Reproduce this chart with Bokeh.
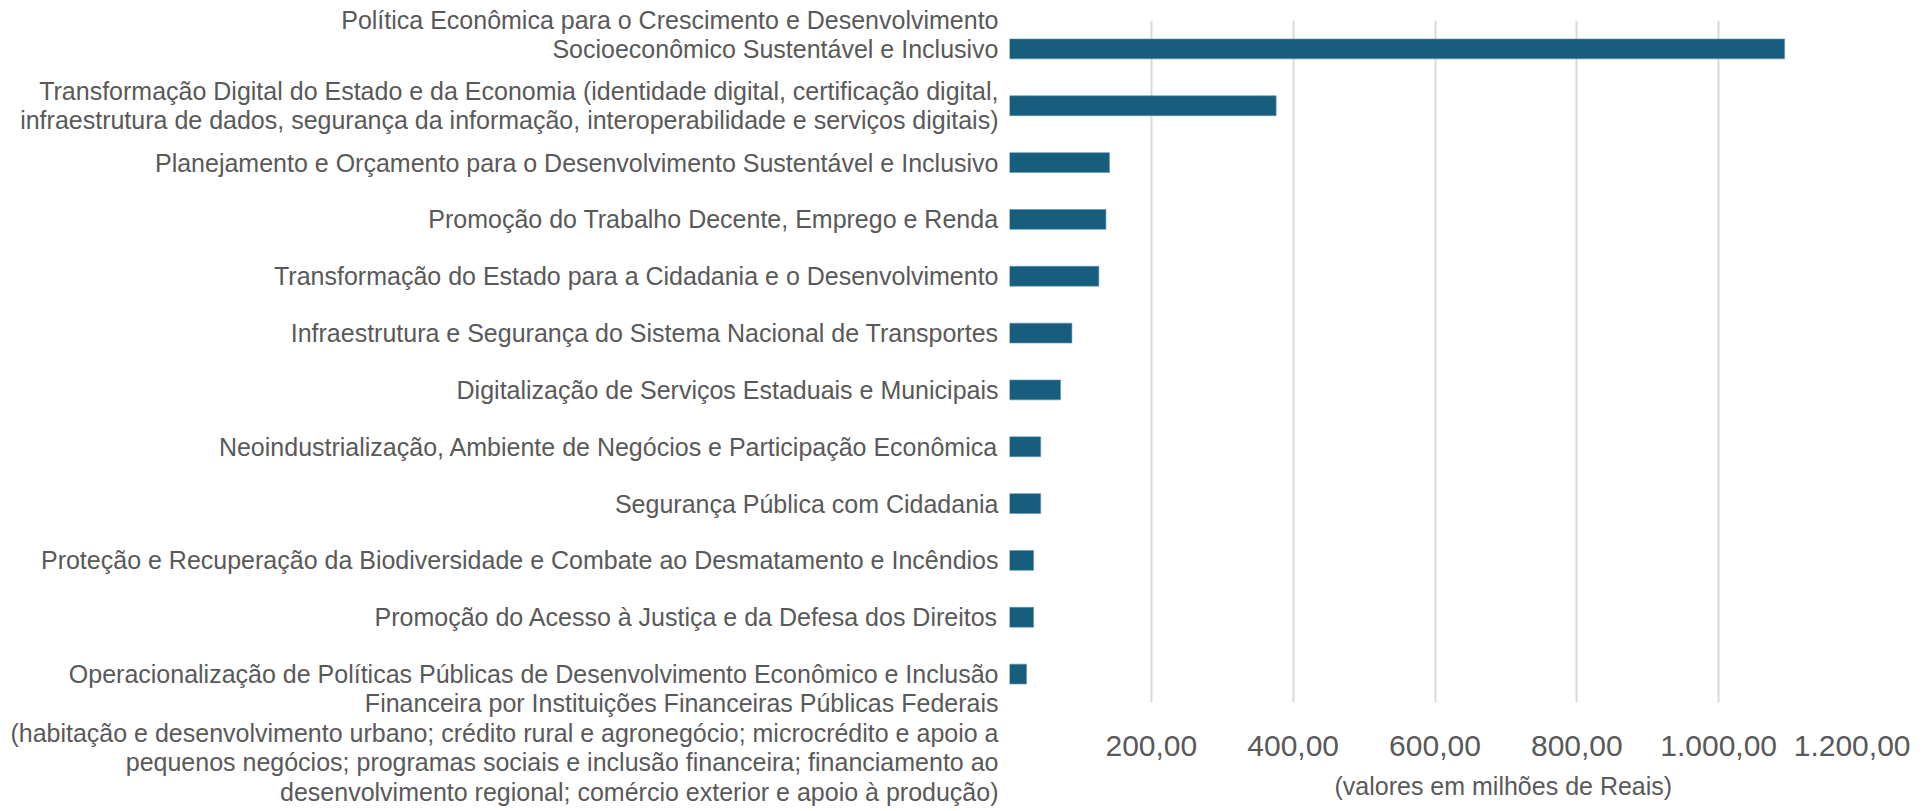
from bokeh.plotting import figure
from bokeh.models import FactorRange, Range1d, FixedTicker, Title
from bokeh.embed import file_html
from bokeh.resources import INLINE

# ---- data (top to bottom as shown) ----
categories = [
    "Política Econômica para o Crescimento e Desenvolvimento\nSocioeconômico Sustentável e Inclusivo",
    "Transformação Digital do Estado e da Economia (identidade digital, certificação digital,\ninfraestrutura de dados, segurança da informação, interoperabilidade e serviços digitais)",
    "Planejamento e Orçamento para o Desenvolvimento Sustentável e Inclusivo",
    "Promoção do Trabalho Decente, Emprego e Renda",
    "Transformação do Estado para a Cidadania e o Desenvolvimento",
    "Infraestrutura e Segurança do Sistema Nacional de Transportes",
    "Digitalização de Serviços Estaduais e Municipais",
    "Neoindustrialização, Ambiente de Negócios e Participação Econômica",
    "Segurança Pública com Cidadania",
    "Proteção e Recuperação da Biodiversidade e Combate ao Desmatamento e Incêndios",
    "Promoção do Acesso à Justiça e da Defesa dos Direitos",
    "Operacionalização de Políticas Públicas de Desenvolvimento Econômico e Inclusão\nFinanceira por Instituições Financeiras Públicas Federais\n(habitação e desenvolvimento urbano; crédito rural e agronegócio; microcrédito e apoio a\npequenos negócios; programas sociais e inclusão financeira; financiamento ao\ndesenvolvimento regional; comércio exterior e apoio à produção)",
]
values = [1093, 376, 141, 136, 126, 88, 72, 44, 44, 34, 34, 24]
x_ticks = [0, 200, 400, 600, 800, 1000, 1200]
x_tick_labels = ["", "200,00", "400,00", "600,00", "800,00", "1.000,00", "1.200,00"]
x_axis_title = "(valores em milhões de Reais)"

# ---- styling ----
FONT = "Liberation Sans"
TEXT_COLOR = "#595959"
BAR_COLOR = "#175e7e"
GRID_COLOR = "#d9d9d9"
PAD = "\u200b"  # invisible filler line used to shift a multi-line label block


def display_factor(i, c):
    """First label keeps its last line beside the bar, long last label keeps
    its first line beside the bar (invisible lines pad the block)."""
    n = c.count("\n") + 1
    if i == 0 and n > 1:
        return c + ("\n" + PAD) * (n - 1)
    if n > 2:
        return (PAD + "\n") * (n - 1) + c
    return c


factors = [display_factor(i, c) for i, c in enumerate(categories)]

p = figure(
    y_range=FactorRange(factors=list(reversed(factors))),
    x_range=Range1d(0, 1200),
    frame_width=851, frame_height=682,
    min_border_left=1009, min_border_top=20, min_border_right=50, min_border_bottom=10,
    output_backend="svg", toolbar_location=None,
)
p.outline_line_color = None
p.background_fill_color = "white"

p.hbar(y=factors, right=values, left=0, height=0.35, color=BAR_COLOR,
       line_color="#5f93ad", line_width=0.6)

# grid
p.ygrid.visible = False
p.xgrid.ticker = FixedTicker(ticks=x_ticks)
p.xgrid.grid_line_color = GRID_COLOR
p.xgrid.grid_line_width = 2

# y axis: category labels
ya = p.yaxis[0]
ya.axis_line_color = None
ya.major_tick_line_color = None
ya.minor_tick_line_color = None
ya.major_tick_out = 0
ya.major_tick_in = 0
ya.major_label_standoff = 11
ya.major_label_text_font = FONT
ya.major_label_text_font_size = "25px"
ya.major_label_text_line_height = 1.05
ya.major_label_text_color = TEXT_COLOR

# x axis
xa = p.xaxis[0]
xa.ticker = FixedTicker(ticks=x_ticks)
xa.major_label_overrides = {t: l for t, l in zip(x_ticks, x_tick_labels)}
xa.axis_line_color = None
xa.major_tick_line_color = None
xa.minor_tick_line_color = None
xa.major_label_text_font = FONT
xa.major_label_text_font_size = "30px"
xa.major_label_text_color = TEXT_COLOR
xa.major_label_standoff = 27

p.add_layout(Title(text=x_axis_title, align="left", offset=325, standoff=23,
                   text_font=FONT, text_font_size="25px", text_font_style="normal",
                   text_color=TEXT_COLOR), "below")

open("out.html", "w").write(file_html(p, INLINE))
